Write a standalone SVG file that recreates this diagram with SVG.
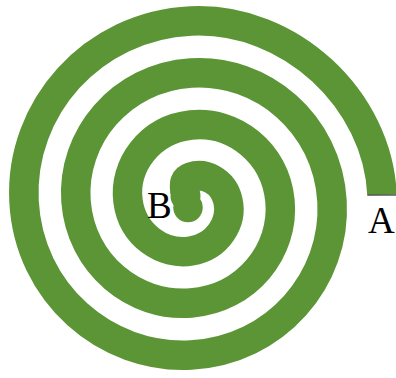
<svg xmlns="http://www.w3.org/2000/svg" width="396" height="378" viewBox="0 0 396 378">
  <defs>
    <filter id="soft" x="-5%" y="-5%" width="110%" height="110%">
      <feGaussianBlur stdDeviation="0.6"/>
    </filter>
  </defs>
  <style>
    .coil { fill: none; stroke: #5b9535; stroke-width: 29.5; stroke-linecap: butt; stroke-linejoin: round; }
    .tip { fill: #5b9535; }
    .edge { stroke: #5a5a5a; stroke-width: 1.5; }
    .lbl { font-family: "Liberation Serif", "Times New Roman", serif; font-size: 37px; fill: #000; }
  </style>
  <rect width="396" height="378" fill="#ffffff"/>
  <g id="coil" filter="url(#soft)">
    <path class="coil" d="M 382 195
      C 378 100 290.41 16.43 191 21
      C 91.59 25.57 19.43 108.77 24 201
      C 28.57 293.23 105.95 359.57 191 355
      C 276.05 350.43 336.57 278.87 332 201
      C 327.43 123.13 261.69 68.43 191 73
      C 120.31 77.57 71.43 137.49 76 201
      C 80.57 264.51 134.67 307.57 191 303
      C 247.33 298.43 284.57 250.15 280 201
      C 275.43 151.85 232.97 120.43 191 125
      C 149.03 129.57 123.43 166.21 128 201
      C 132.57 235.79 163.39 255.57 191 251
      C 218.61 246.43 232.57 221.43 228 201
      C 223.43 180.57 204.25 172.43 191 177
      C 182 180 185 186 185 194"/>
    <circle class="tip" cx="185.5" cy="196" r="15"/>
    <circle class="tip" cx="188" cy="207.5" r="14.75"/>
    <line class="edge" x1="367.5" y1="195" x2="396" y2="195"/>
  </g>
  <g id="label-B">
    <text class="lbl" x="147" y="218">B</text>
  </g>
  <g id="label-A">
    <text class="lbl" x="368" y="233">A</text>
  </g>
</svg>
